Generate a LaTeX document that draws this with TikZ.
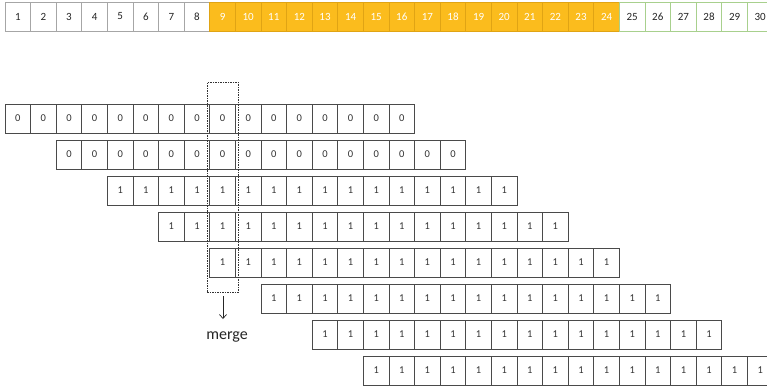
\documentclass[tikz,border=0pt]{standalone}
\usepackage{fontspec}
\setmainfont{Carlito}
\usetikzlibrary{arrows.meta}
\definecolor{orfill}{HTML}{FBBC1D}
\definecolor{ordraw}{HTML}{E0A414}
\definecolor{grdraw}{HTML}{A8D08D}
\definecolor{cellline}{HTML}{4A4A4A}
\begin{document}
\begin{tikzpicture}[x=1pt,y=-1pt,
  tcell/.style={minimum width=25.6pt, minimum height=29pt, inner sep=0pt, outer sep=0pt,
    anchor=north west, line width=0.8pt, font=\fontsize{11}{13}\selectfont},
  plaincell/.style={tcell, draw=gray!70, text=black!85},
  orcell/.style={tcell, draw=ordraw, fill=orfill, text=white},
  grcell/.style={tcell, draw=grdraw, text=black!85},
  bitcell/.style={tcell, draw=cellline, line width=0.9pt, text=black!80, font=\fontsize{10.5}{12}\selectfont},
  mergebox/.style={draw=black!80, dash pattern=on 1.5pt off 1pt, line width=0.6pt,
    minimum width=31pt, minimum height=210pt, inner sep=0pt, anchor=north west},
  conn/.style={-{Straight Barb[length=4pt,width=7pt]}, line width=0.7pt, black!85}
]
\useasboundingbox (0,0) rectangle (767,388);
\clip (0,0) rectangle (767,388);
\fill[white] (0,0) rectangle (767,388);
% top row
\foreach \i in {1,...,30} {
  \pgfmathsetmacro\xx{5+(\i-1)*25.6}
  \ifnum\i<9
    \node[plaincell] (t\i) at (\xx,2) {\i};
  \else\ifnum\i<25
    \node[orcell] (t\i) at (\xx,2) {\i};
  \else
    \node[grcell] (t\i) at (\xx,2) {\i};
  \fi\fi
}
% shifted rows
\foreach \r in {0,...,7} {
  \pgfmathsetmacro\yy{104+36*\r}
  \ifnum\r<2 \def\val{0}\else\def\val{1}\fi
  \foreach \c in {0,...,15} {
    \pgfmathsetmacro\xx{5+(2*\r+\c)*25.6}
    \node[bitcell] (r\r c\c) at (\xx,\yy) {\val};
  }
}
% merge box and arrow
\node[mergebox] (mbox) at (207,82) {};
\coordinate (arrs) at (223,296);
\coordinate (arre) at (223,319);
\draw[conn] (arrs) -- (arre);
\node[font=\fontsize{16}{19}\selectfont, text=black!85] (merge) at (227,337) {merge};
\end{tikzpicture}
\end{document}
